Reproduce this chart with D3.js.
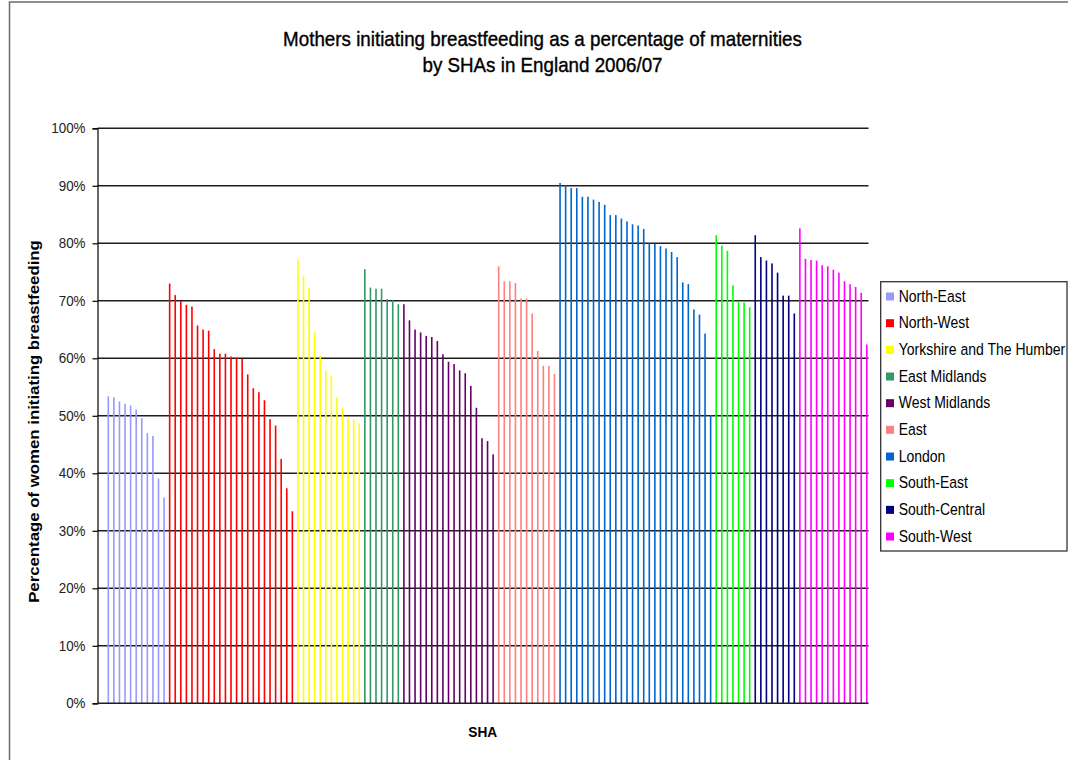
<!DOCTYPE html>
<html>
<head>
<meta charset="utf-8">
<script src="https://cdn.jsdelivr.net/npm/d3@7"></script>
<style>
  html, body { margin: 0; padding: 0; background: #fff; }
  svg { display: block; }
  text { font-family: "Liberation Sans", Arial, sans-serif; }
</style>
</head>
<body>
<script>
// Breastfeeding initiation rates (%) by trust, grouped by Strategic Health Authority
const northEast = [53.4, 53.2, 52.5, 52.1, 51.8, 51.1, 49.6, 47.0, 46.5, 39.1, 35.8];
const northWest = [73.0, 71.0, 70.0, 69.3, 69.0, 65.7, 65.0, 64.8, 61.6, 60.8, 60.8, 60.3,
                   60.1, 59.9, 57.2, 54.8, 54.1, 52.7, 49.4, 48.3, 42.5, 37.4, 33.4];
const yorkshire = [77.2, 74.4, 72.3, 64.5, 60.5, 57.9, 57.0, 53.2, 51.4, 49.6, 49.4, 48.7];
const eastMidlands = [75.5, 72.3, 72.1, 72.1, 70.3, 70.1, 69.4];
const westMidlands = [69.4, 66.6, 65.0, 64.5, 63.9, 63.7, 63.0, 60.7, 59.4, 59.0, 57.9,
                      57.4, 55.2, 51.4, 46.1, 45.6, 43.3];
const east = [76.0, 73.4, 73.4, 73.1, 70.4, 70.4, 67.8, 61.3, 58.7, 58.7, 57.3];
const london = [90.5, 90.1, 89.6, 89.6, 88.1, 88.1, 87.6, 87.2, 86.7, 84.9, 84.9, 84.3,
                83.8, 83.3, 83.1, 82.5, 80.0, 79.9, 79.5, 79.1, 78.5, 77.6, 73.2, 72.9,
                68.5, 67.6, 64.3, 50.1];
const southEast = [81.4, 79.6, 78.7, 72.7, 70.0, 69.7, 68.9];
const southCentral = [81.4, 77.6, 77.0, 76.5, 74.9, 70.9, 70.9, 67.8];
const southWest = [82.6, 77.3, 77.1, 77.0, 76.2, 76.0, 75.4, 74.9, 73.4, 72.9, 72.4, 71.4, 62.4];

const regionNames = ["North-East", "North-West", "Yorkshire and The Humber", "East Midlands",
                     "West Midlands", "East", "London", "South-East", "South-Central", "South-West"];
const regionValues = [northEast, northWest, yorkshire, eastMidlands, westMidlands,
                      east, london, southEast, southCentral, southWest];
const regionColors = ["#9999ff", "#ff0000", "#ffff00", "#339966", "#660066",
                      "#ff8080", "#0066cc", "#00ff00", "#000080", "#ff00ff"];
const yTicks = [0, 10, 20, 30, 40, 50, 60, 70, 80, 90, 100];

const titleLines = ["Mothers initiating breastfeeding as a percentage of maternities",
                    "by SHAs in England 2006/07"];

// flatten into one row per trust
const rows = [];
regionValues.forEach((vals, r) => vals.forEach(v => rows.push({ region: r, value: v })));

const W = 1068, H = 760;
const plot = { left: 97.5, right: 868.5, top: 128.3, bottom: 703.3 };

const svg = d3.select("body").append("svg").attr("width", W).attr("height", H);

// chart frame
svg.append("path")
  .attr("d", `M9.5,${H} L9.5,2 L${W},2`)
  .attr("fill", "none").attr("stroke", "#6b6b6b").attr("stroke-width", 1.5);

const x = d3.scalePoint()
  .domain(d3.range(rows.length))
  .range([108.3, 866.8]);

const y = d3.scaleLinear().domain([0, 100]).range([plot.bottom, plot.top]);

// horizontal gridlines
svg.append("g").selectAll("line")
  .data(yTicks.filter(t => t > 0))
  .join("line")
  .attr("x1", plot.left).attr("x2", plot.right)
  .attr("y1", d => y(d)).attr("y2", d => y(d))
  .attr("stroke", "#1e1e1e").attr("stroke-width", 1.5);

// bars
svg.append("g").selectAll("rect")
  .data(rows)
  .join("rect")
  .attr("x", (d, i) => x(i) - 0.8)
  .attr("width", 1.6)
  .attr("y", d => y(d.value))
  .attr("height", d => y(0) - y(d.value))
  .attr("fill", d => regionColors[d.region]);

// y axis
const yAxis = d3.axisLeft(y)
  .tickValues(yTicks)
  .tickSize(5)
  .tickPadding(7)
  .tickFormat(d => d + "%");
const ya = svg.append("g").attr("transform", `translate(${plot.left},0)`).call(yAxis);
ya.select(".domain").attr("stroke", "#000").attr("stroke-width", 1.2);
ya.selectAll(".tick line").attr("stroke", "#000").attr("stroke-width", 1.2);
ya.selectAll(".tick text")
  .attr("font-size", 13.4)
  .attr("fill", "#222")
  .attr("transform", "scale(1,1.08)")
  .attr("font-family", "'Liberation Sans', Arial, sans-serif");

// x axis baseline
svg.append("line")
  .attr("x1", plot.left).attr("x2", plot.right)
  .attr("y1", y(0)).attr("y2", y(0))
  .attr("stroke", "#1e1e1e").attr("stroke-width", 1.5);

// text with a slightly tall glyph aspect
function tallText(parent, str, tx, ty, size, opts = {}) {
  const t = parent.append("text")
    .attr("transform", `translate(${tx},${ty}) ${opts.rotate ? "rotate(-90) scale(1.12,1)" : "scale(1,1.12)"}`)
    .attr("text-anchor", opts.anchor || "start")
    .attr("font-size", size)
    .attr("font-weight", opts.bold ? "bold" : "normal")
    .attr("fill", "#000")
    .text(str);
  if (opts.heavy) t.attr("stroke", "#000").attr("stroke-width", opts.heavy);
  return t;
}

// title
tallText(svg, titleLines[0], 542.5, 46, 18.8, { anchor: "middle", heavy: 0.35 });
tallText(svg, titleLines[1], 542.5, 72, 18.8, { anchor: "middle", heavy: 0.35 });

// axis titles
tallText(svg, "Percentage of women initiating breastfeeding", 38.5, 421.5, 15, { anchor: "middle", bold: true, rotate: true });
tallText(svg, "SHA", 482.8, 736.7, 13.7, { anchor: "middle", bold: true });

// legend
const legend = svg.append("g");
legend.append("rect")
  .attr("x", 880.7).attr("y", 281.7)
  .attr("width", 186.3).attr("height", 269.3)
  .attr("fill", "#fff").attr("stroke", "#333").attr("stroke-width", 1.3);

const item = legend.selectAll("g.item")
  .data(regionNames)
  .join("g")
  .attr("class", "item")
  .attr("transform", (d, i) => `translate(0,${296.5 + i * 26.67})`);

item.append("rect")
  .attr("x", 886).attr("y", -4)
  .attr("width", 8).attr("height", 8)
  .attr("fill", (d, i) => regionColors[i]);

item.each(function(d) {
  tallText(d3.select(this), d, 898.7, 5.2, 14);
});
</script>
</body>
</html>
